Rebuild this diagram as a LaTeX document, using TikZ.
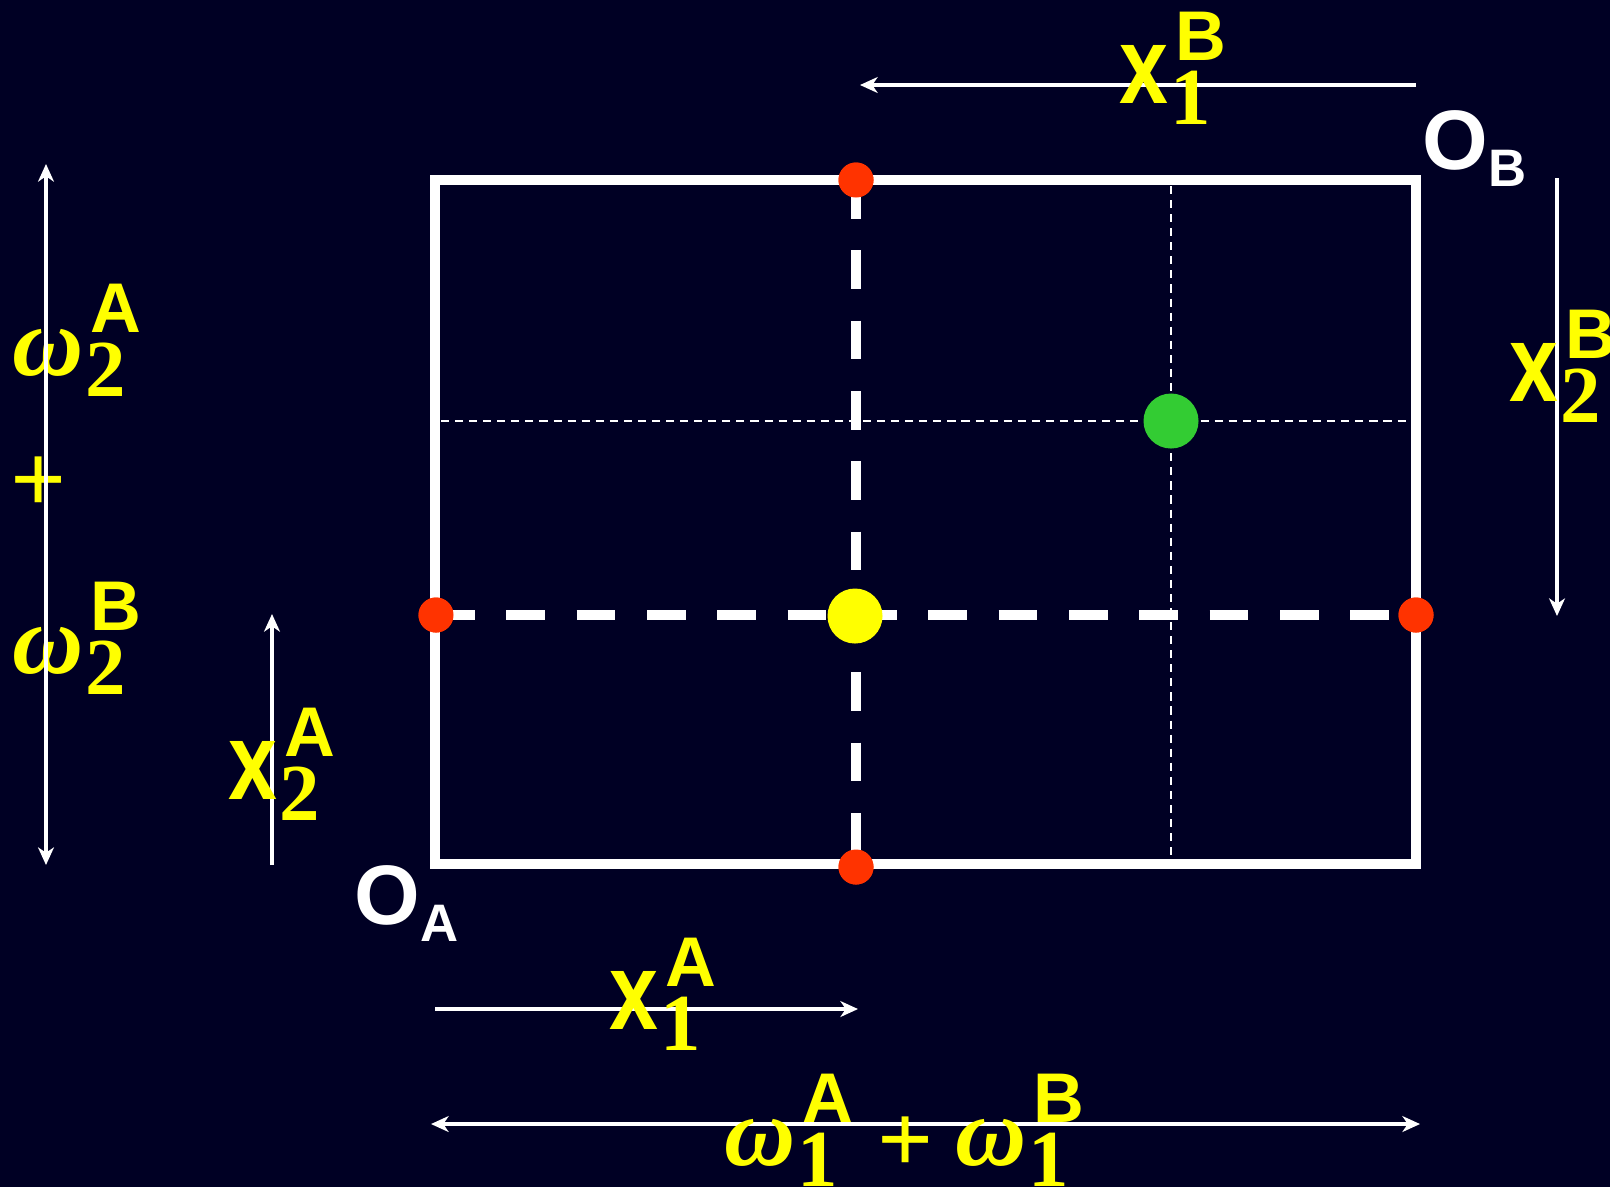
\documentclass[tikz,border=0pt]{standalone}
\usepackage{fontspec}
\usepackage{graphicx}
\usetikzlibrary{arrows.meta}
\newfontfamily\lsans{Liberation Sans}
\newfontfamily\lserif{Liberation Serif}
\definecolor{NightBg}{RGB}{0,0,36}
\definecolor{DotRed}{RGB}{255,51,0}
\definecolor{DotGreen}{RGB}{51,204,51}
\definecolor{LblYellow}{RGB}{255,255,0}

\newcommand{\xvar}{\scalebox{1}[1.25]{\fontsize{25}{25}\selectfont\lsans\bfseries x}}
\newcommand{\wvar}{{\fontsize{28}{28}\selectfont\lserif\bfseries\itshape ω}}
\newcommand{\qlab}[3]{#1\kern0.5pt\rlap{\raisebox{-6pt}{\fontsize{23}{23}\selectfont\lserif\bfseries #2}}\kern1.5pt\raisebox{12pt}{\fontsize{20}{20}\selectfont\lsans\bfseries #3}}
\newcommand{\olab}[1]{{\fontsize{24}{24}\selectfont\lsans\bfseries O}\raisebox{-5pt}{\fontsize{15}{15}\selectfont\lsans\bfseries #1}}

\begin{document}
\begin{tikzpicture}[
        x=0.01cm, y=-0.01cm,
        >={Stealth[length=5pt,width=4.5pt,inset=1.5pt]},
        box/.style={
            draw=white,
            line width=2.6pt
        },
        axis/.style={
            draw=white,
            line width=0.9pt
        },
        thickdash/.style={
            draw=white,
            line width=3pt,
            dash pattern=on 11pt off 9pt
        },
        thindash/.style={
            draw=white,
            line width=0.6pt,
            dash pattern=on 2.3pt off 1.7pt
        },
        reddot/.style={
            circle,
            fill=DotRed,
            inner sep=0pt,
            minimum size=0.35cm
        },
        bigdot/.style={
            circle,
            inner sep=0pt,
            minimum size=0.55cm
        },
        qtext/.style={
            text=LblYellow,
            inner sep=0pt,
            anchor=base west
        },
        otext/.style={
            text=white,
            inner sep=0pt,
            anchor=base west
        }
    ]
        \fill[NightBg] (0,0) rectangle (1610,1187);
        \useasboundingbox (0,0) rectangle (1610,1187);

        % edgeworth box
        \coordinate (oa) at (435,864);
        \coordinate (ob) at (1416,180);
        \draw[box] (oa) rectangle (ob);

        % thin guides through the green point
        \coordinate (gtop) at (1171,186);
        \coordinate (gbot) at (1171,858);
        \coordinate (gleft) at (441,421);
        \coordinate (gright) at (1410,421);
        \draw[thindash] (gtop) -- (gbot);
        \draw[thindash] (gleft) -- (gright);

        % endowment lines
        \node[reddot] (etop) at (856,180) {};
        \node[reddot] (ebot) at (856,867) {};
        \node[reddot] (eleft) at (436,615) {};
        \node[reddot] (eright) at (1416,615) {};
        \draw[thickdash] (etop.center) -- (ebot.center);
        \draw[thickdash] (eleft.center) -- (eright.center);
        \node[reddot] at (etop) {};
        \node[reddot] at (ebot) {};
        \node[reddot] at (eleft) {};
        \node[reddot] at (eright) {};

        \node[bigdot, fill=LblYellow] (endow) at (855,616) {};
        \node[bigdot, fill=DotGreen] (alloc) at (1171,421) {};

        % axes
        \coordinate (x1bs) at (1416,85);
        \coordinate (x1be) at (860,85);
        \draw[axis, ->] (x1bs) -- (x1be);
        \coordinate (x2bs) at (1557,178);
        \coordinate (x2be) at (1557,616);
        \draw[axis, ->] (x2bs) -- (x2be);
        \coordinate (x2as) at (272,865);
        \coordinate (x2ae) at (272,614);
        \draw[axis, ->] (x2as) -- (x2ae);
        \coordinate (x1as) at (435,1009);
        \coordinate (x1ae) at (858,1009);
        \draw[axis, ->] (x1as) -- (x1ae);
        \coordinate (w1l) at (431,1124);
        \coordinate (w1r) at (1420,1124);
        \draw[axis, <->] (w1l) -- (w1r);

        % labels
        \node[qtext] (lx1b) at (1119,103) {\qlab{\xvar}{1}{B}};
        \node[qtext] (lx2b) at (1509,401) {\qlab{\xvar}{2}{B}};
        \node[qtext] (lx2a) at (228,799) {\qlab{\xvar}{2}{A}};
        \node[qtext] (lx1a) at (609,1029) {\qlab{\xvar}{1}{A}};
        \node[qtext] (lw2a) at (12,375) {\qlab{\wvar}{2}{A}};
        \node[qtext, anchor=center] (lplus) at (39,485) {\fontsize{28}{28}\selectfont\lserif\bfseries +};
        \node[qtext] (lw2b) at (12,673) {\qlab{\wvar}{2}{B}};
        \node[qtext] (lw1a) at (724,1165) {\qlab{\wvar}{1}{A}};
        \node[qtext, anchor=center] (bplus) at (906,1145) {\fontsize{28}{28}\selectfont\lserif\bfseries +};
        \node[qtext] (lw1b) at (955,1165) {\qlab{\wvar}{1}{B}};
        \node[otext] (loa) at (354,924) {\olab{A}};
        \node[otext] (lob) at (1422,169) {\olab{B}};

        \coordinate (w2t) at (46,164);
        \coordinate (w2b) at (46,865);
        \draw[axis, <->] (w2t) -- (w2b);
    \end{tikzpicture}
\end{document}
